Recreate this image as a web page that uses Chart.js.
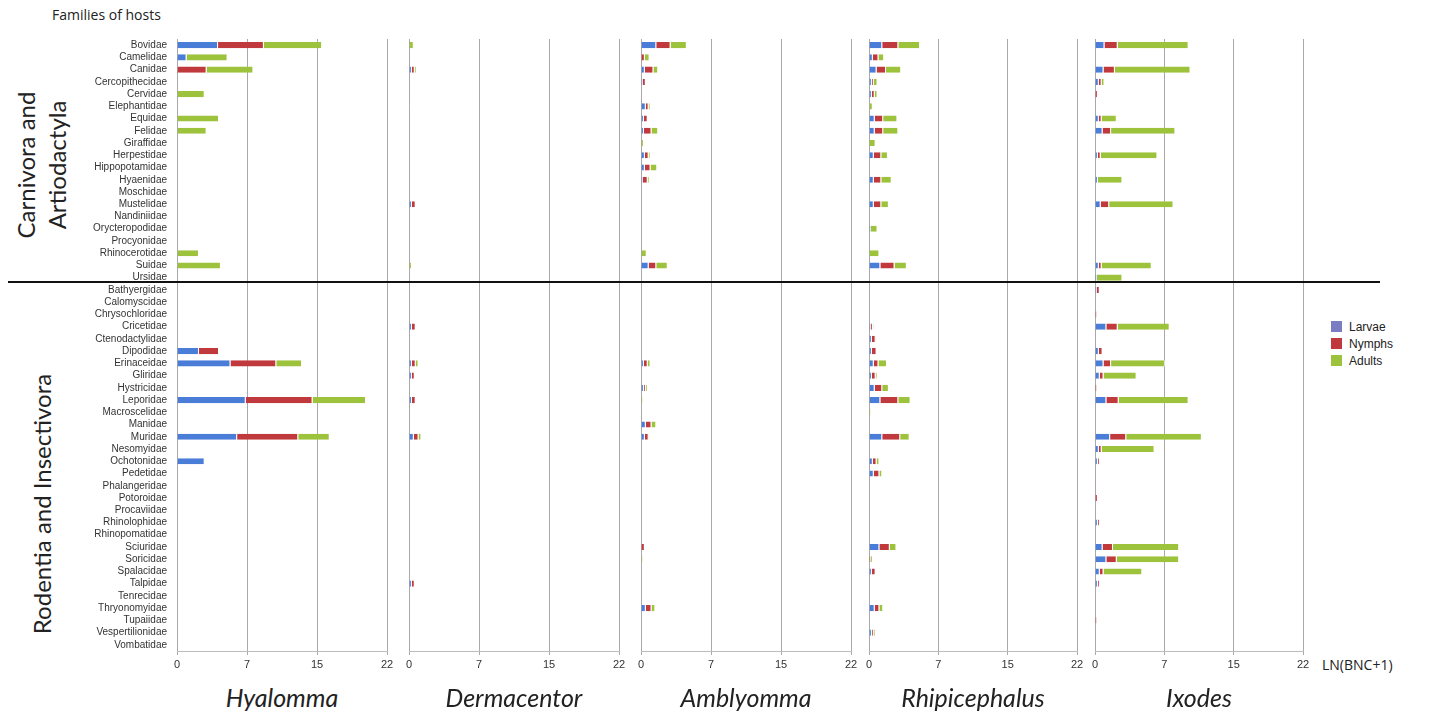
<!DOCTYPE html>
<html>
<head>
<meta charset="utf-8">
<script src="https://cdn.jsdelivr.net/npm/chart.js@4.4.0/dist/chart.umd.min.js"></script>
<style>
  body {
    margin: 0;
    width: 1429px;
    height: 713px;
    background: #fff;
    position: relative;
    overflow: hidden;
    font-family: "Liberation Sans", Arial, sans-serif;
    color: #222;
  }
  .panel { position: absolute; top: 0; height: 681px; }
  .genus {
    position: absolute;
    top: 681px;
    width: 240px;
    margin-left: -120px;
    text-align: center;
    font-family: Lato, "Open Sans", sans-serif;
    font-style: italic;
    font-size: 25px;
    line-height: 32px;
  }
  .group {
    position: absolute;
    transform: translate(-50%, -50%) rotate(-90deg);
    white-space: nowrap;
    text-align: center;
    font-family: Lato, "Open Sans", sans-serif;
    font-size: 24px;
    line-height: 31px;
  }
  #title { position: absolute; left: 52px; top: 5px; font-family: "Open Sans", sans-serif; font-size: 14px; }
  #unit { position: absolute; left: 1322px; top: 655px; font-family: "Open Sans", sans-serif; font-size: 14px; }
  #divider { position: absolute; left: 8px; top: 281px; width: 1372px; height: 2px; background: #111; z-index: 5; }
  #legend { position: absolute; left: 1331px; top: 319px; font-size: 12px; }
  #legend div { height: 17px; line-height: 17px; white-space: nowrap; }
  #legend span { display: inline-block; width: 11px; height: 11px; margin-right: 7px; vertical-align: -1px; }
</style>
</head>
<body>
<div id="title">Families of hosts</div>
<div class="group" style="left:41px; top:165px;">Carnivora and<br>Artiodactyla</div>
<div class="group" style="left:41px; top:504px;">Rodentia and Insectivora</div>
<div id="unit">LN(BNC+1)</div>
<div id="legend"></div>
<div id="divider"></div>

<script>
const families = [
  "Bovidae", "Camelidae", "Canidae", "Cercopithecidae", "Cervidae", "Elephantidae", "Equidae", "Felidae",
  "Giraffidae", "Herpestidae", "Hippopotamidae", "Hyaenidae", "Moschidae", "Mustelidae", "Nandiniidae",
  "Orycteropodidae", "Procyonidae", "Rhinocerotidae", "Suidae", "Ursidae",
  "Bathyergidae", "Calomyscidae", "Chrysochloridae", "Cricetidae", "Ctenodactylidae", "Dipodidae",
  "Erinaceidae", "Gliridae", "Hystricidae", "Leporidae", "Macroscelidae", "Manidae", "Muridae",
  "Nesomyidae", "Ochotonidae", "Pedetidae", "Phalangeridae", "Potoroidae", "Procaviidae", "Rhinolophidae",
  "Rhinopomatidae", "Sciuridae", "Soricidae", "Spalacidae", "Talpidae", "Tenrecidae", "Thryonomyidae",
  "Tupaiidae", "Vespertilionidae", "Vombatidae"
];
const genera = ["Hyalomma", "Dermacentor", "Amblyomma", "Rhipicephalus", "Ixodes"];
const stages = ["Larvae", "Nymphs", "Adults"];
const xTickValues = [0, 22 / 3, 44 / 3, 22];
const xTickLabels = ["0", "7", "15", "22"];

// LN(BNC+1) per family, 20 carnivora/artiodactyla rows then 30 rodentia/insectivora rows
const hyalommaLarvae = [4.3,1.0,0,0,0,0,0,0,0,0, 0,0,0,0,0,0,0,0,0,0,
  0,0,0,0,0,2.3,5.6,0,0,7.2, 0,0,6.3,0,2.9,0,0,0,0,0, 0,0,0,0,0,0,0,0,0,0];
const hyalommaNymphs = [4.8,0,3.1,0,0,0,0,0,0,0, 0,0,0,0,0,0,0,0,0,0,
  0,0,0,0,0,2.1,4.8,0,0,7.0, 0,0,6.4,0,0,0,0,0,0,0, 0,0,0,0,0,0,0,0,0,0];
const hyalommaAdults = [6.1,4.3,4.9,0,2.9,0,4.4,3.1,0,0, 0,0,0,0,0,0,0,2.3,4.6,0,
  0,0,0,0,0,0,2.7,0,0,5.6, 0,0,3.3,0,0,0,0,0,0,0, 0,0,0,0,0,0,0,0,0,0];

const dermacentorLarvae = [0,0,0.3,0,0,0,0,0,0,0, 0,0,0,0.3,0,0,0,0,0,0,
  0,0,0,0.3,0,0,0.3,0.3,0,0.3, 0,0,0.5,0,0,0,0,0,0,0, 0,0,0,0,0.3,0,0,0,0,0];
const dermacentorNymphs = [0,0,0.3,0,0,0,0,0,0,0, 0,0,0,0.4,0,0,0,0,0,0,
  0,0,0,0.4,0,0,0.4,0.3,0,0.4, 0,0,0.5,0,0,0,0,0,0,0, 0,0,0,0,0.3,0,0,0,0,0];
const dermacentorAdults = [0.5,0,0.2,0,0,0.1,0,0,0,0, 0,0,0,0,0,0,0,0,0.3,0,
  0,0,0,0,0,0,0.3,0,0,0, 0,0,0.3,0,0,0,0,0,0,0, 0,0,0,0,0,0,0,0,0,0];

const amblyommaLarvae = [1.6,0,0.4,0.2,0,0.5,0.3,0.3,0,0.4, 0.4,0.2,0,0,0,0,0,0,0.8,0,
  0,0,0,0,0,0,0.3,0,0.3,0, 0,0.5,0.4,0,0,0,0,0,0,0, 0,0,0,0,0,0,0.5,0,0,0];
const amblyommaNymphs = [1.5,0.4,0.9,0.3,0,0.3,0.4,0.8,0,0.4, 0.6,0.5,0,0,0,0,0,0,0.8,0,
  0,0,0,0,0,0,0.4,0,0.2,0, 0,0.6,0.4,0,0,0,0,0,0,0, 0,0.4,0,0,0,0,0.6,0,0,0];
const amblyommaAdults = [1.7,0.5,0.5,0,0,0.2,0,0.7,0.3,0.2, 0.7,0.2,0,0,0,0,0,0.6,1.2,0,
  0,0,0,0,0,0,0.3,0,0.2,0.2, 0,0.5,0.1,0,0,0,0,0,0,0, 0,0,0.2,0,0,0,0.4,0,0,0];

const rhipicephalusLarvae = [1.4,0.4,0.8,0.3,0.3,0,0.6,0.6,0,0.5, 0,0.5,0,0.5,0,0.2,0,0,1.2,0,
  0,0,0,0.2,0.3,0.3,0.5,0.3,0.6,1.2, 0,0,1.4,0,0.4,0.5,0,0,0,0, 0,1.1,0,0.3,0,0,0.6,0,0.3,0];
const rhipicephalusNymphs = [1.7,0.6,1.0,0.2,0.3,0,0.9,0.9,0,0.8, 0,0.8,0,0.8,0,0,0,0,1.5,0,
  0,0,0,0.2,0.4,0.5,0.5,0.4,0.8,1.9, 0,0,1.9,0,0.4,0.6,0,0,0,0, 0,1.1,0.2,0.4,0,0,0.5,0,0.2,0];
const rhipicephalusAdults = [2.3,0.6,1.6,0.4,0.3,0.4,1.5,1.6,0.7,0.7, 0,1.1,0,0.8,0,0.7,0,1.1,1.3,0,
  0,0,0,0.1,0.1,0,0.9,0.2,0.7,1.3, 0.2,0.1,1.0,0,0.3,0.3,0,0,0,0, 0,0.7,0.2,0,0,0,0.4,0,0.2,0];

const ixodesLarvae = [1.0,0,0.9,0.4,0,0,0.4,0.8,0,0.3, 0,0.3,0,0.6,0,0,0,0,0.4,0.2,
  0.2,0,0,1.2,0,0.4,0.9,0.5,0,1.2, 0,0,1.6,0.4,0.3,0,0,0,0,0.3, 0,0.8,1.2,0.5,0.3,0,0,0,0,0];
const ixodesNymphs = [1.4,0,1.2,0.3,0.3,0,0.3,0.9,0,0.3, 0,0,0,0.9,0,0,0,0,0.3,0,
  0.3,0,0.2,1.2,0,0.4,0.8,0.4,0.2,1.3, 0,0,1.7,0.3,0.2,0,0.1,0.3,0,0.2, 0,1.1,1.1,0.4,0.2,0,0.1,0.2,0.1,0];
const ixodesAdults = [7.5,0,8.0,0.3,0,0,1.6,6.8,0,6.0, 0,2.6,0,6.8,0,0,0,0,5.3,2.7,
  0,0,0,5.5,0,0,5.7,3.5,0,7.4, 0,0,8.0,5.6,0,0,0,0,0,0, 0,7.0,6.6,4.1,0,0,0,0,0,0];

const seriesByGenus = [
  [hyalommaLarvae, hyalommaNymphs, hyalommaAdults],
  [dermacentorLarvae, dermacentorNymphs, dermacentorAdults],
  [amblyommaLarvae, amblyommaNymphs, amblyommaAdults],
  [rhipicephalusLarvae, rhipicephalusNymphs, rhipicephalusAdults],
  [ixodesLarvae, ixodesNymphs, ixodesAdults],
];

const barColors = ["#4a7dd8", "#c0393c", "#9dc33d"];
const legendColors = ["#7b7dc2", "#c0393c", "#9dc33d"];

// where each panel's plot area sits on the page
const panelLeft = [177, 409, 641, 869, 1095];
const panelWidth = [210, 210, 210, 208, 208];
const pad = 15;

function renderPanel(i) {
  let first = i === 0;
  let box = document.createElement("div");
  box.className = "panel";
  let left = first ? 0 : panelLeft[i] - pad;
  let width = first ? panelLeft[0] + panelWidth[0] + pad : panelWidth[i] + 2 * pad;
  box.style.left = left + "px";
  box.style.width = width + "px";
  let canvas = document.createElement("canvas");
  box.appendChild(canvas);
  document.body.appendChild(box);

  const data = {
    labels: families,
    datasets: stages.map(function (stage, k) {
      return {
        label: stage,
        data: seriesByGenus[i][k],
        backgroundColor: barColors[k],
        borderColor: "rgba(255,255,255,0.7)",
        borderWidth: { left: 0, right: 1, top: 0, bottom: 0 },
        borderSkipped: false,
        barPercentage: 0.5,
        categoryPercentage: 1,
      };
    }),
  };

  const config = {
    type: "bar",
    data: data,
    options: {
      indexAxis: "y",
      responsive: true,
      maintainAspectRatio: false,
      animation: false,
      layout: { padding: { left: first ? 0 : pad, right: pad, top: 39, bottom: 0 } },
      plugins: { legend: { display: false }, tooltip: { enabled: false } },
      scales: {
        x: {
          stacked: true,
          min: 0,
          max: 22,
          afterBuildTicks: function (scale) {
            scale.ticks = xTickValues.map(function (v) { return { value: v }; });
          },
          afterFit: function (scale) { scale.height = 30; },
          ticks: {
            autoSkip: false,
            maxRotation: 0,
            padding: 3,
            color: "#333",
            font: { size: 11, family: "Liberation Sans" },
            callback: function (value, index) { return xTickLabels[index]; },
          },
          grid: { color: "#a9a9a9", lineWidth: 1, tickLength: 4 },
          border: { color: "#bdbdbd" },
        },
        y: {
          stacked: true,
          display: first,
          afterFit: function (scale) {
            // only the first panel carries the family names
            scale.width = first ? panelLeft[0] : 0;
          },
          ticks: {
            autoSkip: false,
            padding: 10,
            color: "#333",
            font: { size: 10, family: "Liberation Sans" },
          },
          grid: { display: false, drawTicks: false },
          border: { display: false },
        },
      },
    },
  };

  new Chart(canvas, config);

  let title = document.createElement("div");
  title.className = "genus";
  title.style.left = panelLeft[i] + panelWidth[i] / 2 + "px";
  title.textContent = genera[i];
  document.body.appendChild(title);
}

function renderLegend() {
  let legend = document.getElementById("legend");
  for (let k = 0; k < stages.length; k++) {
    legend.innerHTML +=
      '<div><span style="background:' + legendColors[k] + '"></span>' + stages[k] + "</div>";
  }
}

for (let i = 0; i < genera.length; i++) {
  renderPanel(i);
}
renderLegend();
</script>
</body>
</html>
